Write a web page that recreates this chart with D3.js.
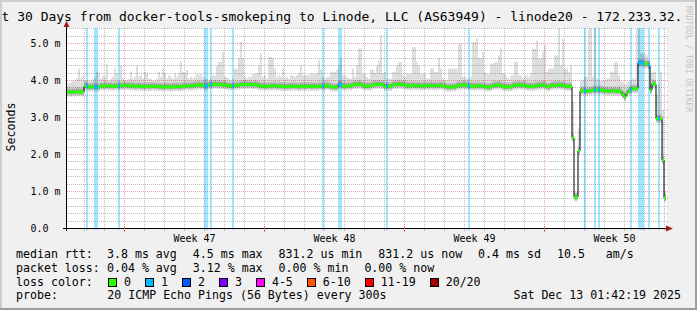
<!DOCTYPE html>
<html>
<head>
<meta charset="utf-8">
<script src="https://cdn.jsdelivr.net/npm/d3@7"></script>
<style>
  html, body { margin: 0; padding: 0; background: #f0f0f0; }
  svg text { font-family: "DejaVu Sans Mono", monospace; white-space: pre; }
</style>
</head>
<body>
<script>
// median rtt per sample (ms), 300 samples over the last 30 days
var median = [
  3.69,3.69,3.68,3.69,3.69,3.70,3.69,3.69,3.69,3.85,3.85,3.82,3.82,3.83,3.82,3.82,3.82,3.85,3.85,3.86,
  3.85,3.85,3.85,3.84,3.85,3.85,3.85,3.86,3.86,3.87,3.86,3.86,3.85,3.86,3.84,3.84,3.85,3.84,3.84,3.83,
  3.84,3.84,3.84,3.85,3.84,3.84,3.83,3.83,3.82,3.83,3.83,3.83,3.82,3.83,3.83,3.84,3.83,3.83,3.84,3.86,
  3.85,3.85,3.85,3.86,3.87,3.87,3.88,3.87,3.87,3.85,3.85,3.88,3.89,3.89,3.90,3.89,3.89,3.89,3.88,3.89,
  3.86,3.86,3.85,3.86,3.86,3.87,3.87,3.89,3.89,3.90,3.89,3.89,3.89,3.88,3.89,3.88,3.86,3.85,3.85,3.85,
  3.84,3.85,3.85,3.85,3.86,3.85,3.85,3.84,3.84,3.84,3.83,3.84,3.84,3.85,3.84,3.84,3.83,3.84,3.84,3.84,
  3.84,3.85,3.84,3.84,3.84,3.84,3.85,3.85,3.85,3.85,3.86,3.85,3.83,3.82,3.82,3.82,3.89,3.89,3.85,3.85,
  3.85,3.86,3.85,3.88,3.89,3.89,3.90,3.89,3.86,3.85,3.85,3.85,3.86,3.88,3.89,3.89,3.90,3.89,3.89,3.84,
  3.85,3.84,3.84,3.88,3.89,3.89,3.90,3.89,3.89,3.88,3.86,3.86,3.86,3.87,3.86,3.86,3.86,3.85,3.86,3.86,
  3.86,3.86,3.87,3.86,3.86,3.86,3.86,3.87,3.86,3.85,3.82,3.82,3.82,3.83,3.82,3.86,3.87,3.87,3.88,3.87,
  3.87,3.85,3.85,3.85,3.85,3.86,3.85,3.85,3.85,3.84,3.82,3.82,3.83,3.86,3.87,3.87,3.88,3.87,3.84,3.83,
  3.83,3.83,3.83,3.86,3.87,3.87,3.88,3.87,3.87,3.87,3.84,3.84,3.84,3.84,3.85,3.86,3.87,3.87,3.88,3.87,
  3.83,3.83,3.86,3.87,3.87,3.87,3.88,3.87,3.87,3.86,3.84,3.84,3.84,2.45,0.85,0.85,2.10,3.72,3.72,3.72,
  3.71,3.72,3.72,3.74,3.74,3.75,3.74,3.74,3.73,3.72,3.72,3.71,3.72,3.72,3.72,3.71,3.72,3.70,3.62,3.56,
  3.66,3.72,3.75,3.78,3.78,3.78,4.48,4.48,4.47,4.45,4.45,4.41,3.74,3.92,3.90,2.97,2.97,2.97,1.85,0.83
];

// top of the smoke (slowest ping) per sample (ms)
var smokeMax = [
  3.92,3.92,3.95,4.00,4.00,4.07,4.32,4.05,4.14,4.00,4.00,4.00,4.00,4.05,4.10,4.23,4.20,4.05,4.14,4.10,
  4.43,4.00,4.05,4.10,4.32,4.20,4.00,4.41,4.05,4.00,4.00,4.05,4.23,4.05,4.10,4.41,4.10,4.14,4.05,4.23,
  4.18,4.05,4.05,4.00,4.00,4.05,4.23,4.10,4.32,4.20,4.05,4.14,4.10,4.05,4.18,4.10,4.20,4.52,4.23,4.20,
  4.28,4.05,4.10,4.05,4.10,4.18,4.15,4.18,4.10,4.05,4.05,4.00,4.05,4.14,4.14,4.41,4.50,4.50,4.77,4.10,
  4.10,4.05,4.00,4.05,4.32,4.32,4.60,5.04,4.60,4.10,4.05,4.10,4.10,4.18,4.18,4.20,4.41,4.73,4.10,4.14,
  4.05,4.64,4.64,4.60,4.32,4.10,4.14,4.10,4.32,4.05,4.10,4.05,4.14,4.14,4.10,4.14,4.20,4.41,4.14,4.14,
  4.14,4.14,4.18,4.18,4.18,4.20,4.55,4.30,4.10,4.05,4.10,4.10,4.23,4.23,4.23,4.30,4.41,4.60,4.14,4.14,
  4.10,4.05,4.05,4.32,4.10,4.41,4.86,4.86,4.18,4.18,4.10,4.05,4.30,4.30,4.20,4.40,4.55,5.22,4.20,4.23,
  4.05,4.05,4.05,4.23,4.23,4.41,4.50,4.50,4.14,4.10,4.18,4.18,4.18,4.90,4.90,4.50,4.41,4.18,4.18,4.18,
  4.05,4.05,4.32,4.32,4.23,4.23,4.60,4.32,4.05,4.00,4.00,4.32,4.32,4.32,4.32,4.32,5.00,5.00,4.10,4.10,
  4.05,4.05,4.10,5.04,5.04,5.13,4.60,4.60,4.77,4.20,4.18,4.18,4.46,4.46,4.50,4.50,4.68,4.86,4.20,4.18,
  4.10,4.05,4.14,4.14,4.50,4.50,4.14,4.14,4.05,4.14,4.14,4.10,4.20,4.86,4.86,5.08,4.60,4.60,4.77,4.95,
  4.23,4.32,4.32,4.32,4.68,4.68,5.40,4.41,5.13,4.32,4.32,4.23,4.41,3.42,1.00,1.00,2.70,4.00,4.00,4.10,
  4.10,5.40,5.40,4.10,5.40,4.05,4.00,4.00,4.00,4.00,4.05,4.05,4.23,4.23,4.50,4.50,4.14,4.00,3.95,3.90,
  3.95,4.00,4.00,4.05,4.05,5.40,5.40,4.73,4.73,4.73,4.68,4.55,4.20,4.23,4.23,3.60,3.90,4.23,3.20,1.00
];

// samples with lost pings: [sample index, pings lost of 20]
var lossAt = [[10,1],[14,1],[15,1],[26,1],[69,1],[70,1],[72,1],[83,1],[128,1],[136,1],[137,1],
  [160,1],[201,1],[259,1],[264,1],[266,1],[282,1],[286,1],[287,1],[288,1],[291,1],[296,1]];

var lossLimits = [0, 1, 2, 3, 5, 10, 19, 20];
var lossLabels = ["0", "1", "2", "3", "4-5", "6-10", "11-19", "20/20"];
var lossColors = ["#26ff00", "#00b8ff", "#0059ff", "#7e00ff", "#ff00ff", "#ff5500", "#ff0000", "#a10000"];

var yTicks = [0, 1, 2, 3, 4, 5];
var yTickLabels = ["0.0", "1.0 m", "2.0 m", "3.0 m", "4.0 m", "5.0 m"];

var rttStats = ["3.8 ms avg", "4.5 ms max", "831.2 us min", "831.2 us now", "0.4 ms sd", "10.5   am/s"];
var lossStats = ["0.04 % avg", "3.12 % max", "0.00 % min", "0.00 % now"];
var probeText = "20 ICMP Echo Pings (56 Bytes) every 300s";
var stamp = "Sat Dec 13 01:42:19 2025";
var title = "t 30 Days from docker-tools-smokeping to Linode, LLC (AS63949) - linode20 - 172.233.32.";

var END = Date.UTC(2025, 11, 13, 1, 42, 19);
var START = END - 30 * 864e5;
var STEP = (END - START) / median.length;

var W = 697, H = 310;
var svg = d3.select("body").append("svg")
  .attr("width", W).attr("height", H);

// frame
svg.append("rect").attr("width", W).attr("height", H).attr("fill", "#f0f0f0");
svg.append("rect").attr("x", 0).attr("y", 0).attr("width", W).attr("height", 2).attr("fill", "#cfcfcf");
svg.append("rect").attr("x", 0).attr("y", 0).attr("width", 2).attr("height", H).attr("fill", "#cfcfcf");
svg.append("rect").attr("x", 0).attr("y", H - 2).attr("width", W).attr("height", 2).attr("fill", "#9e9e9e");
svg.append("rect").attr("x", W - 2).attr("y", 0).attr("width", 2).attr("height", H).attr("fill", "#9e9e9e");

var x = d3.scaleUtc().domain([START, END]).range([66, 666]);
var y = d3.scaleLinear().domain([0, 5.4]).range([228.5, 28.7]);
var px = function(v) { return Math.floor(v) + 0.5; };

var plotTop = 28, plotBottom = 228;
svg.append("rect").attr("x", 67).attr("y", plotTop).attr("width", 600).attr("height", plotBottom - plotTop)
  .attr("fill", "#ffffff");

svg.append("clipPath").attr("id", "plot")
  .append("rect").attr("x", 67).attr("y", plotTop).attr("width", 602).attr("height", 204);

var days = d3.utcDay.range(START, END);
var sundays = d3.utcSunday.range(START, END);
var isSunday = function(d) { return d.getUTCDay() === 0; };

// grid
var grid = svg.append("g").attr("fill", "none").attr("stroke-dasharray", "1,1");
var minorY = d3.range(1, 28).filter(function(k) { return k % 5 !== 0; }).map(function(k) { return k * 0.2; });
grid.selectAll(".hmin").data(minorY).join("line")
  .attr("x1", 67).attr("x2", 669)
  .attr("y1", function(d) { return px(y(d)); }).attr("y2", function(d) { return px(y(d)); })
  .attr("stroke", "#bdbdbd");
grid.selectAll(".vmin").data(days.filter(function(d) { return !isSunday(d); })).join("line")
  .attr("x1", function(d) { return px(x(d)); }).attr("x2", function(d) { return px(x(d)); })
  .attr("y1", plotTop).attr("y2", plotBottom)
  .attr("stroke", "#bdbdbd");
grid.selectAll(".hmaj").data([1, 2, 3, 4, 5]).join("line")
  .attr("x1", 67).attr("x2", 669)
  .attr("y1", function(d) { return px(y(d)); }).attr("y2", function(d) { return px(y(d)); })
  .attr("stroke", "#eda0a0");
grid.selectAll(".vmaj").data(sundays).join("line")
  .attr("x1", function(d) { return px(x(d)); }).attr("x2", function(d) { return px(x(d)); })
  .attr("y1", plotTop).attr("y2", plotBottom)
  .attr("stroke", "#eda0a0");

var tOf = function(i) { return START + i * STEP; };
var lossColor = function(n) {
  for (var k = 0; k < lossLimits.length; k++) if (n <= lossLimits[k]) return lossColors[k];
  return lossColors[lossColors.length - 1];
};

// loss bars
svg.append("g").selectAll("rect").data(lossAt).join("rect")
  .attr("x", function(d) { return x(tOf(d[0])); })
  .attr("width", function(d) { return x(tOf(d[0] + 1)) - x(tOf(d[0])); })
  .attr("y", plotTop).attr("height", plotBottom - plotTop + 2)
  .attr("fill", lossColor(1)).attr("fill-opacity", 0.36);

// smoke
var idx = d3.range(median.length);
var smoke = svg.append("g").attr("clip-path", "url(#plot)");
smoke.selectAll(".s1").data(idx).join("rect")
  .attr("x", function(i) { return x(tOf(i)); })
  .attr("width", function(i) { return x(tOf(i + 1)) - x(tOf(i)); })
  .attr("y", function(i) { return y(smokeMax[i]); })
  .attr("height", function(i) { return Math.max(0, y(median[i] - 0.12) - y(smokeMax[i])); })
  .attr("fill", "#000").attr("fill-opacity", 0.13);
smoke.selectAll(".s2").data(idx).join("rect")
  .attr("x", function(i) { return x(tOf(i)); })
  .attr("width", function(i) { return x(tOf(i + 1)) - x(tOf(i)); })
  .attr("y", function(i) { return y(Math.min(smokeMax[i], median[i] + 0.12)); })
  .attr("height", function(i) { return Math.max(0, y(median[i] - 0.08) - y(Math.min(smokeMax[i], median[i] + 0.12))); })
  .attr("fill", "#000").attr("fill-opacity", 0.12);
smoke.selectAll(".s3").data(idx).join("rect")
  .attr("x", function(i) { return x(tOf(i)); })
  .attr("width", function(i) { return x(tOf(i + 1)) - x(tOf(i)); })
  .attr("y", function(i) { return y(Math.min(smokeMax[i], median[i] + 0.07)); })
  .attr("height", function(i) { return Math.max(0, y(median[i] - 0.05) - y(Math.min(smokeMax[i], median[i] + 0.07))); })
  .attr("fill", "#000").attr("fill-opacity", 0.18);

// median line
var pts = idx.map(function(i) { return [x(tOf(i)), y(median[i])]; });
pts.push([x(END), y(median[median.length - 1])]);
svg.append("path").attr("d", d3.line().curve(d3.curveStepAfter)(pts))
  .attr("fill", "none").attr("stroke", "#000").attr("stroke-width", 1);

var lossBySample = new Map(lossAt);
svg.append("g").selectAll("rect").data(idx).join("rect")
  .attr("x", function(i) { return x(tOf(i)); })
  .attr("width", function(i) { return x(tOf(i + 1)) - x(tOf(i)); })
  .attr("y", function(i) { return y(median[i]) - 1.5; })
  .attr("height", 3)
  .attr("fill", function(i) { return lossColor(lossBySample.get(i) || 0); });

// axes
svg.append("line").attr("x1", 63).attr("x2", 667).attr("y1", 228.5).attr("y2", 228.5)
  .attr("stroke", "#000");
svg.append("line").attr("x1", 66.5).attr("x2", 66.5).attr("y1", 231).attr("y2", 26)
  .attr("stroke", "#000");
svg.append("path").attr("d", "M666,225.5L673,228.5L666,231.5Z").attr("fill", "#a01818");
svg.append("path").attr("d", "M63.5,27L66.5,21L69.5,27Z").attr("fill", "#a01818");

svg.append("g").selectAll("line").data(days.filter(function(d) { return !isSunday(d); })).join("line")
  .attr("x1", function(d) { return px(x(d)); }).attr("x2", function(d) { return px(x(d)); })
  .attr("y1", 229).attr("y2", 231).attr("stroke", "#bdbdbd");
svg.append("g").selectAll("line").data(sundays).join("line")
  .attr("x1", function(d) { return px(x(d)); }).attr("x2", function(d) { return px(x(d)); })
  .attr("y1", 226).attr("y2", 232).attr("stroke", "#e07070");

svg.append("g").selectAll("text").data(yTicks).join("text")
  .attr("x", 30.5).attr("y", function(d) { return y(d) + 3.7; })
  .attr("font-size", 10).attr("fill", "#000")
  .text(function(d, i) { return yTickLabels[i]; });

var weekFmt = d3.utcFormat("%V");
svg.append("g").selectAll("text").data(sundays).join("text")
  .attr("x", function(d) { return x(d3.utcHour.offset(d, 84)); })
  .attr("y", 241.5).attr("text-anchor", "middle").attr("font-size", 10)
  .text(function(d) { return "Week " + weekFmt(d3.utcHour.offset(d, 84)); });

svg.append("text").attr("transform", "translate(11,127) rotate(-90)")
  .attr("text-anchor", "middle").attr("dominant-baseline", "central")
  .attr("font-size", 11.6).text("Seconds");

svg.append("text").attr("transform", "translate(688,59) rotate(90)")
  .attr("text-anchor", "middle").attr("dominant-baseline", "central")
  .attr("font-size", 8).attr("fill", "#c4c4c4").text("RRDTOOL / TOBI OETIKER");

svg.append("text").attr("x", 1.5).attr("y", 21).attr("font-size", 13).text(title);

// legend
var leg = svg.append("g").attr("font-size", 11.6).attr("fill", "#000");
var rows = [258.3, 271.8, 285.5, 299.3];
var CW = 6.98;
function statRow(items, yy) {
  var xx = 107;
  items.forEach(function(s) {
    leg.append("text").attr("x", xx).attr("y", yy).text(s);
    xx += s.length * CW + 16;
  });
}
leg.append("text").attr("x", 16).attr("y", rows[0]).text("median rtt:");
statRow(rttStats, rows[0]);
leg.append("text").attr("x", 16).attr("y", rows[1]).text("packet loss:");
statRow(lossStats, rows[1]);
leg.append("text").attr("x", 16).attr("y", rows[2]).text("loss color:");
var bx = 108.3;
lossLabels.forEach(function(lbl, k) {
  leg.append("rect").attr("x", Math.round(bx) + 0.5).attr("y", 278.5).attr("width", 8).attr("height", 8)
    .attr("fill", lossColors[k]).attr("stroke", "#000");
  leg.append("text").attr("x", bx + 15.7).attr("y", rows[2]).text(lbl);
  bx += 30 + lbl.length * CW;
});
leg.append("text").attr("x", 16).attr("y", rows[3]).text("probe:");
leg.append("text").attr("x", 107.3).attr("y", rows[3]).text(probeText);
leg.append("text").attr("x", 681).attr("y", rows[3]).attr("text-anchor", "end").text(stamp);
</script>
</body>
</html>
